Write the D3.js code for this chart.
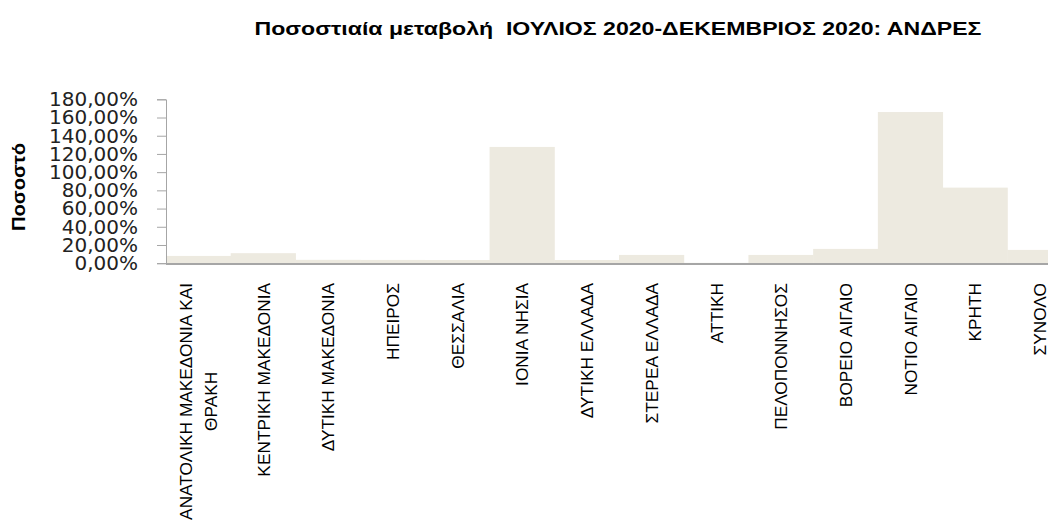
<!DOCTYPE html>
<html>
<head>
<meta charset="utf-8">
<script src="https://cdn.jsdelivr.net/npm/d3@7"></script>
<style>
  html, body { margin: 0; padding: 0; background: #fff; overflow: hidden; }
  svg { display: block; }
</style>
</head>
<body>
<svg id="chart" width="1048" height="523"></svg>
<script>
// ---- data ----
const categories = [
  ["ΑΝΑΤΟΛΙΚΗ ΜΑΚΕΔΟΝΙΑ ΚΑΙ", "ΘΡΑΚΗ"],
  ["ΚΕΝΤΡΙΚΗ ΜΑΚΕΔΟΝΙΑ"],
  ["ΔΥΤΙΚΗ ΜΑΚΕΔΟΝΙΑ"],
  ["ΗΠΕΙΡΟΣ"],
  ["ΘΕΣΣΑΛΙΑ"],
  ["ΙΟΝΙΑ ΝΗΣΙΑ"],
  ["ΔΥΤΙΚΗ ΕΛΛΑΔΑ"],
  ["ΣΤΕΡΕΑ ΕΛΛΑΔΑ"],
  ["ΑΤΤΙΚΗ"],
  ["ΠΕΛΟΠΟΝΝΗΣΟΣ"],
  ["ΒΟΡΕΙΟ ΑΙΓΑΙΟ"],
  ["ΝΟΤΙΟ ΑΙΓΑΙΟ"],
  ["ΚΡΗΤΗ"],
  ["ΣΥΝΟΛΟ"]
];
const values = [8.0, 11.0, 3.7, 3.6, 3.5, 127.7, 3.5, 9.1, 0.4, 9.1, 15.7, 166.0, 83.0, 14.6];
const yTicks = [0, 20, 40, 60, 80, 100, 120, 140, 160, 180];
const titleText = "Ποσοστιαία μεταβολή  ΙΟΥΛΙΟΣ 2020-ΔΕΚΕΜΒΡΙΟΣ 2020: ΑΝΔΡΕΣ";
const yAxisTitle = "Ποσοστό";

// ---- layout ----
const svg = d3.select("#chart");
const plot = { left: 166, right: 1072, top: 99.3, bottom: 263.2 };

const x = d3.scaleBand()
  .domain(d3.range(categories.length))
  .range([plot.left, plot.right])
  .padding(0);

const y = d3.scaleLinear()
  .domain([0, 180])
  .range([plot.bottom, plot.top]);

const fmt = v => d3.format(".2f")(v).replace(".", ",") + "%";

// bars
svg.append("g")
  .selectAll("rect")
  .data(values)
  .join("rect")
  .attr("x", (d, i) => x(i))
  .attr("y", d => y(d))
  .attr("width", x.bandwidth() + 0.5)
  .attr("height", d => y(0) - y(d))
  .attr("fill", "#EDEAE0");

// y axis
const yAxis = svg.append("g")
  .attr("transform", `translate(${plot.left},0)`)
  .call(d3.axisLeft(y).tickValues(yTicks).tickFormat(fmt).tickSize(9).tickPadding(19));
yAxis.select(".domain").attr("stroke", "#A6A6A6").attr("stroke-width", 1);
yAxis.selectAll(".tick line").attr("stroke", "#A6A6A6");
yAxis.selectAll(".tick text")
  .attr("font-family", "'DejaVu Sans', Verdana, sans-serif")
  .attr("font-size", 20)
  .attr("fill", "#222");

// x axis baseline
svg.append("line")
  .attr("x1", plot.left).attr("x2", plot.right)
  .attr("y1", y(0) + 0.8).attr("y2", y(0) + 0.8)
  .attr("stroke", "#A6A6A6").attr("stroke-width", 1.8);

// category labels (rotated)
const labelTop = 283;
const lineGap = 25;
const lab = svg.append("g")
  .attr("font-family", "'Liberation Sans', Arial, sans-serif")
  .attr("font-size", 17.3)
  .attr("fill", "#000");

categories.forEach((lines, i) => {
  const cx = x(i) + x.bandwidth() / 2;
  const n = lines.length;
  const tmp = lab.append("text").text(lines.reduce((a, b) => a.length >= b.length ? a : b));
  const maxLen = tmp.node().getComputedTextLength();
  tmp.remove();
  lines.forEach((t, j) => {
    const offset = (j - (n - 1) / 2) * lineGap;
    const bx = cx + offset + 6.5;
    const by = labelTop + maxLen / 2;
    lab.append("text")
      .attr("transform", `translate(${bx},${by}) rotate(-90)`)
      .attr("text-anchor", "middle")
      .text(t);
  });
});

// y axis title
svg.append("text")
  .attr("transform", `translate(25,187) rotate(-90)`)
  .attr("text-anchor", "middle")
  .attr("font-family", "'Liberation Sans', Arial, sans-serif")
  .attr("font-weight", "bold")
  .attr("font-size", 19)
  .attr("textLength", 88)
  .attr("lengthAdjust", "spacingAndGlyphs")
  .attr("fill", "#000")
  .text(yAxisTitle);

// chart title
svg.append("text")
  .attr("x", 618)
  .attr("y", 35)
  .attr("text-anchor", "middle")
  .attr("font-family", "'Liberation Sans', Arial, sans-serif")
  .attr("font-weight", "bold")
  .attr("font-size", 18.5)
  .attr("textLength", 727)
  .attr("lengthAdjust", "spacingAndGlyphs")
  .attr("fill", "#000")
  .style("white-space", "pre")
  .text(titleText);
</script>
</body>
</html>
